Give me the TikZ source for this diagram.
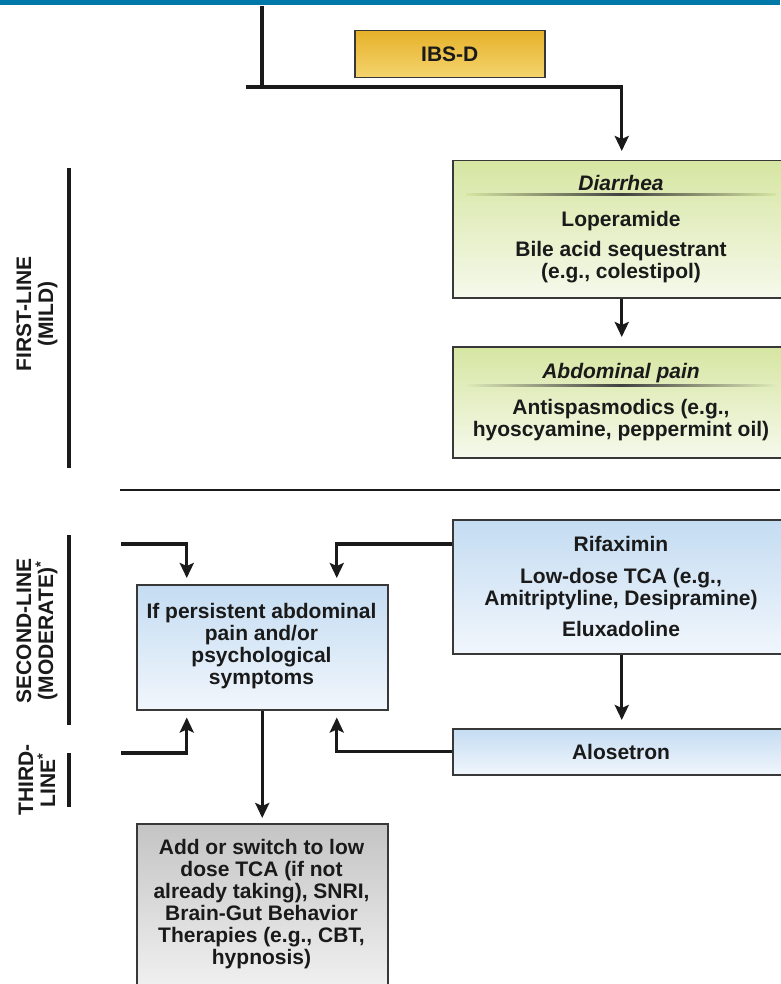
\documentclass[tikz,border=0pt]{standalone}
\usepackage{fontspec}
\setmainfont{Liberation Sans}
\usetikzlibrary{arrows.meta,positioning}

\definecolor{bandblue}{HTML}{0078A8}
\definecolor{goldtop}{HTML}{E6B12A}
\definecolor{goldbot}{HTML}{F4D46E}
\definecolor{greentop}{HTML}{D6E6A2}
\definecolor{greenbot}{HTML}{F6F9EC}
\definecolor{bluetop}{HTML}{C4DCF2}
\definecolor{bluebot}{HTML}{F1F6FC}
\definecolor{graytop}{HTML}{C4C4C4}
\definecolor{graybot}{HTML}{F4F4F4}
\definecolor{inkc}{HTML}{1A1A1A}

\tikzset{
  txt/.style={font=\fontsize{21}{22}\selectfont\bfseries, text=inkc, align=center, inner sep=0pt},
  box/.style={draw=black!78, line width=1.5pt, inner sep=0pt, anchor=north west},
  goldbox/.style={box, top color=goldtop, bottom color=goldbot},
  greenbox/.style={box, top color=greentop, bottom color=greenbot},
  bluebox/.style={box, top color=bluetop, bottom color=bluebot},
  graybox/.style={box, top color=graytop, bottom color=graybot},
  conn/.style={line width=3.3pt, draw=inkc},
  arr/.style={conn, -{Stealth[length=15pt,width=14pt,inset=3pt]}, shorten >=7pt},
  bar/.style={line width=3.5pt, draw=inkc},
  sidelbl/.style={txt, rotate=90},
}

\begin{document}
\begin{tikzpicture}[x=1pt,y=-1pt]
	\path[use as bounding box] (0,0) rectangle (780,984);
	\fill[bandblue] (0,0) rectangle (780,5);

	% first line
	\node[goldbox, minimum width=190, minimum height=47] (ibsd) at (354,30) {};
	\node[txt] (ibsdtxt) at (ibsd.center) {IBS-D};

	\node[greenbox, minimum width=338, minimum height=137] (diarrhea) at (452,160) {};
	\node[txt] (diarhead) at (621,183) {\itshape Diarrhea};
	\shade[left color=greentop, right color=greentop, middle color=black!75] (466,194) rectangle (776,196);
	\node[txt] (lope) at (621,221) {Loperamide};
	\node[txt] (bile) at (621,262) {Bile acid sequestrant\\(e.g., colestipol)};

	\node[greenbox, minimum width=338, minimum height=111] (pain) at (452,346) {};
	\node[txt] (painhead) at (621,373) {\itshape Abdominal pain};
	\shade[left color=greentop!70!greenbot, right color=greentop!70!greenbot, middle color=black!75] (466,384.5) rectangle (776,386.5);
	\node[txt] (spasmo) at (621,420) {Antispasmodics (e.g.,\\hyoscyamine, peppermint oil)};

	% second and third line
	\node[bluebox, minimum width=338, minimum height=134] (rifax) at (452,519) {};
	\node[txt] (rifaxtxt) at (621,586) {Rifaximin\\[10pt]Low-dose TCA (e.g.,\\Amitriptyline, Desipramine)\\[9pt]Eluxadoline};

	\node[bluebox, minimum width=338, minimum height=46] (alos) at (452,728) {};
	\node[txt] (alostxt) at (621,752) {Alosetron};

	\node[bluebox, minimum width=251, minimum height=125] (persist) at (136,584) {};
	\node[txt] (persisttxt) at (261.5,646) {If persistent abdominal\\pain and/or\\psychological\\symptoms};

	\node[graybox, minimum width=251, minimum height=177] (addsw) at (136,823) {};
	\node[txt] (addswtxt) at (261.5,904) {Add or switch to low\\dose TCA (if not\\already taking), SNRI,\\Brain-Gut Behavior\\Therapies (e.g., CBT,\\hypnosis)};

	% side labels
	\draw[bar] (69,168) -- (69,468);
	\node[sidelbl] (firstlbl) at (37,314) {FIRST-LINE\\(MILD)};
	\draw[bar] (69,535) -- (69,725);
	\node[sidelbl] (secondlbl) at (37,631) {SECOND-LINE\\(MODERATE)\textsuperscript{*}};
	\draw[bar] (69,753) -- (69,807);
	\node[sidelbl] (thirdlbl) at (37,780) {THIRD-\\LINE\textsuperscript{*}};

	\draw[line width=2.2pt, draw=inkc] (120,490) -- (780,490);

	% connectors
	\coordinate (topin) at (262,6);
	\coordinate (branchL) at (246,87);
	\coordinate (secin) at (121,544);
	\coordinate (thirdin) at (121,753);

	\draw[conn] (topin) -- (topin |- branchL);
	\draw[arr, shorten >=9pt] (branchL) -| (diarrhea.north);
	\draw[arr, shorten >=9pt] (diarrhea.south) -- (pain.north);
	\draw[arr, shorten >=8pt] (rifax.south) -- (alos.north);
	\draw[arr, shorten >=6pt] (secin) -| ([xshift=-75.5pt]persist.north);
	\draw[arr, shorten >=6pt] ([yshift=-25pt]rifax.north west) -| ([xshift=74.5pt]persist.north);
	\draw[arr] (thirdin) -| ([xshift=-75.5pt]persist.south);
	\draw[arr] (alos.west) -| ([xshift=74.5pt]persist.south);
	\draw[arr, shorten >=5pt] (persist.south) -- (addsw.north);
\end{tikzpicture}
\end{document}
